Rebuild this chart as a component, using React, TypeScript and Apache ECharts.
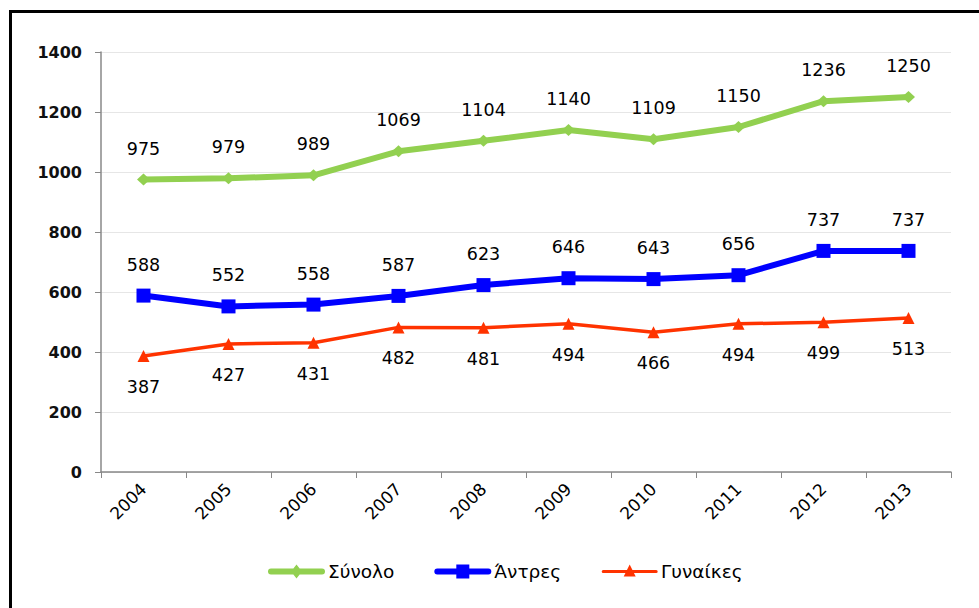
import React, { useEffect, useRef } from "react";
import * as echarts from "echarts";

const years = ["2004", "2005", "2006", "2007", "2008", "2009", "2010", "2011", "2012", "2013"];
const total = [975, 979, 989, 1069, 1104, 1140, 1109, 1150, 1236, 1250];
const men = [588, 552, 558, 587, 623, 646, 643, 656, 737, 737];
const women = [387, 427, 431, 482, 481, 494, 466, 494, 499, 513];
const seriesNames = ["Σύνολο", "Άντρες", "Γυναίκες"];

const lineThick = "M3 4 L54 4 A3 3 0 0 1 54 10 L3 10 A3 3 0 0 1 3 4 Z";
const lineThin = "M2 5.5 L55 5.5 A1.5 1.5 0 0 1 55 8.5 L2 8.5 A1.5 1.5 0 0 1 2 5.5 Z";
const iconGreen = "path://" + lineThick + " M28.5 0 L34 7 L28.5 14 L23 7 Z";
const iconBlue = "path://" + lineThick + " M22 0 L35 0 L35 14 L22 14 Z";
const iconRed = "path://" + lineThin + " M28.5 0 L34.5 12 L22.5 12 Z M0 14 L0.01 14 L0.01 13.99 Z";

export default function App() {
  const ref = useRef<HTMLDivElement>(null);
  useEffect(() => {
    if (!ref.current) return;
    const chart = echarts.init(ref.current, null, { renderer: "svg" });
    const labelFont = { fontFamily: "DejaVu Sans", fontSize: 17.5, color: "#000" };
    chart.setOption({
      animation: false,
      backgroundColor: "#fff",
      graphic: [
        {
          type: "rect",
          shape: { x: 10.5, y: 11.5, width: 1000, height: 700 },
          style: { fill: "none", stroke: "#000", lineWidth: 3 },
          silent: true,
        },
      ],
      grid: { left: 101, right: 28, top: 52, bottom: 136 },
      legend: {
        bottom: 22,
        left: 263,
        itemWidth: 57,
        itemHeight: 14,
        itemGap: 40,
        textStyle: { fontFamily: "DejaVu Sans", fontSize: 18.5, color: "#000", padding: [0, 0, 0, -2] },
        data: [
          { name: seriesNames[0], icon: iconGreen },
          { name: seriesNames[1], icon: iconBlue },
          { name: seriesNames[2], icon: iconRed },
        ],
      },
      xAxis: {
        type: "category",
        data: years,
        boundaryGap: true,
        axisLine: { lineStyle: { color: "#888", width: 1.5 } },
        axisTick: { show: true, length: 6, lineStyle: { color: "#888" } },
        axisLabel: { rotate: 45, margin: 14, fontFamily: "DejaVu Sans", fontSize: 17, color: "#000" },
      },
      yAxis: {
        type: "value",
        min: 0,
        max: 1400,
        interval: 200,
        axisLine: { show: true, lineStyle: { color: "#888", width: 1.5 } },
        axisTick: { show: true, length: 6, lineStyle: { color: "#888" } },
        splitLine: { lineStyle: { color: "#e6e6e6" } },
        axisLabel: {
          margin: 19,
          fontFamily: "DejaVu Sans",
          fontSize: 16,
          fontWeight: "bold",
          color: "#111",
          formatter: (v: number) => String(v),
        },
      },
      series: [
        {
          name: seriesNames[0],
          type: "line",
          data: total,
          color: "#92D050",
          symbol: "diamond",
          symbolSize: [13, 12],
          lineStyle: { width: 6, color: "#92D050" },
          itemStyle: { color: "#92D050" },
          label: { show: true, position: "top", distance: 16, ...labelFont },
        },
        {
          name: seriesNames[1],
          type: "line",
          data: men,
          color: "#0000FF",
          symbol: "rect",
          symbolSize: 14,
          lineStyle: { width: 6, color: "#0000FF" },
          itemStyle: { color: "#0000FF" },
          label: { show: true, position: "top", distance: 15, ...labelFont },
        },
        {
          name: seriesNames[2],
          type: "line",
          data: women,
          color: "#FF3300",
          symbol: "triangle",
          symbolSize: 12,
          lineStyle: { width: 3.5, color: "#FF3300" },
          itemStyle: { color: "#FF3300" },
          label: { show: true, position: "bottom", distance: 16, ...labelFont },
        },
      ],
    });
    return () => chart.dispose();
  }, []);
  return (
    <div
      ref={ref}
      style={{ position: "absolute", left: 0, top: 0, width: 979, height: 608 }}
    />
  );
}
